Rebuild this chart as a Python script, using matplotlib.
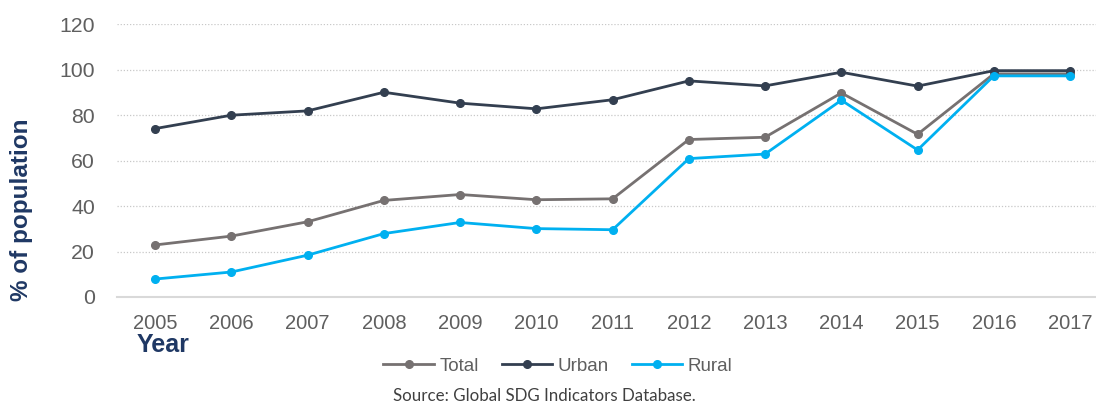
import numpy as np
import matplotlib.pyplot as plt

# Dados (% da população)
anos = [2005, 2006, 2007, 2008, 2009, 2010, 2011, 2012, 2013, 2014, 2015, 2016, 2017]
total = [22.9, 26.8, 33.1, 42.5, 45.1, 42.8, 43.2, 69.3, 70.3, 89.8, 71.6, 98.2, 98.2]
urbano = [74.1, 80.0, 81.9, 90.1, 85.3, 82.8, 86.8, 95.1, 92.9, 98.9, 92.8, 99.6, 99.6]
rural = [7.9, 11.0, 18.4, 27.9, 32.8, 30.1, 29.6, 60.9, 62.9, 86.6, 64.7, 97.3, 97.3]
yticks = [0, 20, 40, 60, 80, 100, 120]

plt.rcParams['font.family'] = ['Liberation Sans', 'DejaVu Sans']

fig = plt.figure(figsize=(10.96, 4.03), dpi=100)
ax = fig.add_axes([117 / 1096, 1 - 297 / 403, 1 - 117 / 1096, (297 - 24.3) / 403])

cinza_txt = '#5f5f5f'
azul_esc = '#1f3864'

ax.plot(anos, total, color='#767171', lw=2.0, marker='o', ms=5.5, label='Total')
ax.plot(anos, urbano, color='#333f50', lw=2.0, marker='o', ms=5.5, label='Urban')
ax.plot(anos, rural, color='#00b0f0', lw=2.0, marker='o', ms=5.5, label='Rural')

ax.set_xlim(2004.5, 2017.34)
ax.set_ylim(0, 120)
ax.set_xticks(anos)
ax.set_yticks(yticks)

# grade pontilhada e eixo base cinza claro
ax.grid(axis='y', linestyle=(0, (1, 1.5)), color='#c8c8c8', lw=0.9)
ax.grid(axis='x', visible=False)
ax.set_axisbelow(True)
for lado in ['top', 'right', 'left']:
    ax.spines[lado].set_visible(False)
ax.spines['bottom'].set_color('#d9d9d9')
ax.spines['bottom'].set_linewidth(1.5)
ax.tick_params(axis='both', length=0, labelcolor=cinza_txt)
ax.tick_params(axis='x', pad=12, labelsize=14.5)
ax.tick_params(axis='y', pad=16, labelsize=15.3)

fig.text(22 / 1096, 1 - 210 / 403, '% of population', rotation=90, ha='center', va='center',
         fontsize=17.5, fontweight='bold', color=azul_esc)
fig.text(137 / 1096, 1 - 345 / 403, 'Year', ha='left', va='center',
         fontsize=18, fontweight='bold', color=azul_esc)

leg = fig.legend(loc='center', bbox_to_anchor=(558 / 1096, 1 - 366 / 403), ncol=3, frameon=False,
                 fontsize=13.5, handlelength=2.7, columnspacing=1.2, handletextpad=0.3)
for t in leg.get_texts():
    t.set_color(cinza_txt)

fig.text(544 / 1096, 1 - 396 / 403, 'Source: Global SDG Indicators Database.', ha='center', va='center',
         fontsize=12.2, color='#404040', family=['Lato', 'DejaVu Sans'])

fig.savefig('out.png', dpi=100)
